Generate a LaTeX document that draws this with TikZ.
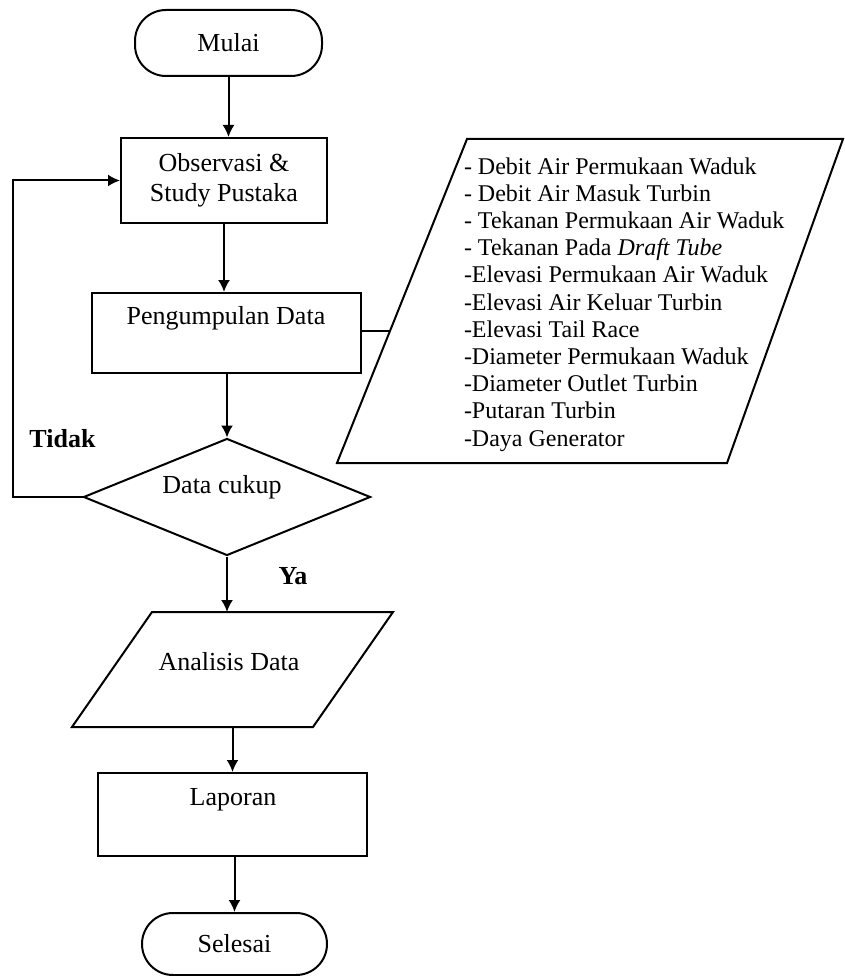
\documentclass[tikz,border=0pt]{standalone}
\usepackage{fontspec}
\setmainfont{Liberation Serif}
\usetikzlibrary{arrows.meta,shapes.geometric}
\begin{document}
\begin{tikzpicture}[x=1pt,y=-1pt,line width=2pt,
  font=\fontsize{26}{30}\selectfont,
  arr/.style={-{Latex[length=12pt,width=12pt]}},
  term/.style={draw,rounded corners=31pt,inner sep=0pt},
  procbox/.style={draw,rectangle,inner sep=0pt,align=center},
  decis/.style={draw,diamond,inner sep=0pt},
  lbl/.style={inner sep=0pt},
  listtxt/.style={inner sep=0pt,align=left,font=\fontsize{24}{27.2}\selectfont}]
\useasboundingbox (0,0) rectangle (844,976);

% terminals and boxes
\node[term,minimum width=187pt,minimum height=66pt] (mulai) at (228.5,43) {Mulai};
\node[procbox,minimum width=206pt,minimum height=85pt] (obs) at (224,180.5) {Observasi \&\\Study Pustaka};
\node[procbox,minimum width=269pt,minimum height=80pt] (peng) at (226.5,333) {};
\node[lbl] (pengt) at (226,318) {Pengumpulan Data};
\node[decis,minimum width=287pt,minimum height=117pt] (dec) at (227,497) {};
\node[lbl] (dect) at (222,487) {Data cukup};
\node[procbox,minimum width=269pt,minimum height=83pt] (lap) at (232.5,814.5) {};
\node[lbl] (lapt) at (233,800) {Laporan};
\node[term,minimum width=185pt,minimum height=62pt] (sel) at (234.5,944) {Selesai};

% analisis parallelogram
\draw (72,727) -- (152,612) -- (393,612) -- (313,727) -- cycle;
\node[lbl] (anat) at (229,662) {Analisis Data};
\coordinate (antop) at (227,612);
\coordinate (anbot) at (232.5,727);

% data list parallelogram
\draw (337,463) -- (467,139) -- (843,139) -- (727,463) -- cycle;
\coordinate (dleft) at (390,331);
\node[listtxt,anchor=north west] (list) at (463,156.5) {%
- Debit Air Permukaan Waduk\\
- Debit Air Masuk Turbin\\
- Tekanan Permukaan Air Waduk\\
- Tekanan Pada \textit{Draft Tube}\\
-Elevasi Permukaan Air Waduk\\
-Elevasi Air Keluar Turbin\\
-Elevasi Tail Race\\
-Diameter Permukaan Waduk\\
-Diameter Outlet Turbin\\
-Putaran Turbin\\
-Daya Generator};

% labels
\node[lbl,font=\fontsize{26}{30}\selectfont\bfseries] (tidak) at (62.5,439) {Tidak};
\node[lbl,font=\fontsize{26}{30}\selectfont\bfseries] (ya) at (293,576) {Ya};

% connectors
\coordinate (loopx) at (13,0);
\draw[arr] (mulai.south) -- (mulai.south |- obs.north);
\draw[arr] (obs.south) -- (obs.south |- peng.north);
\draw (peng.east |- dleft) -- (dleft);
\draw[arr] (dec.north |- peng.south) -- (dec.north);
\draw[arr] (dec.west) -- (dec.west -| loopx) |- (obs.west);
\draw[arr] (dec.south) -- (antop);
\draw[arr] (anbot) -- (lap.north);
\draw[arr] (lap.south -| sel.north) -- (sel.north);
\end{tikzpicture}
\end{document}
